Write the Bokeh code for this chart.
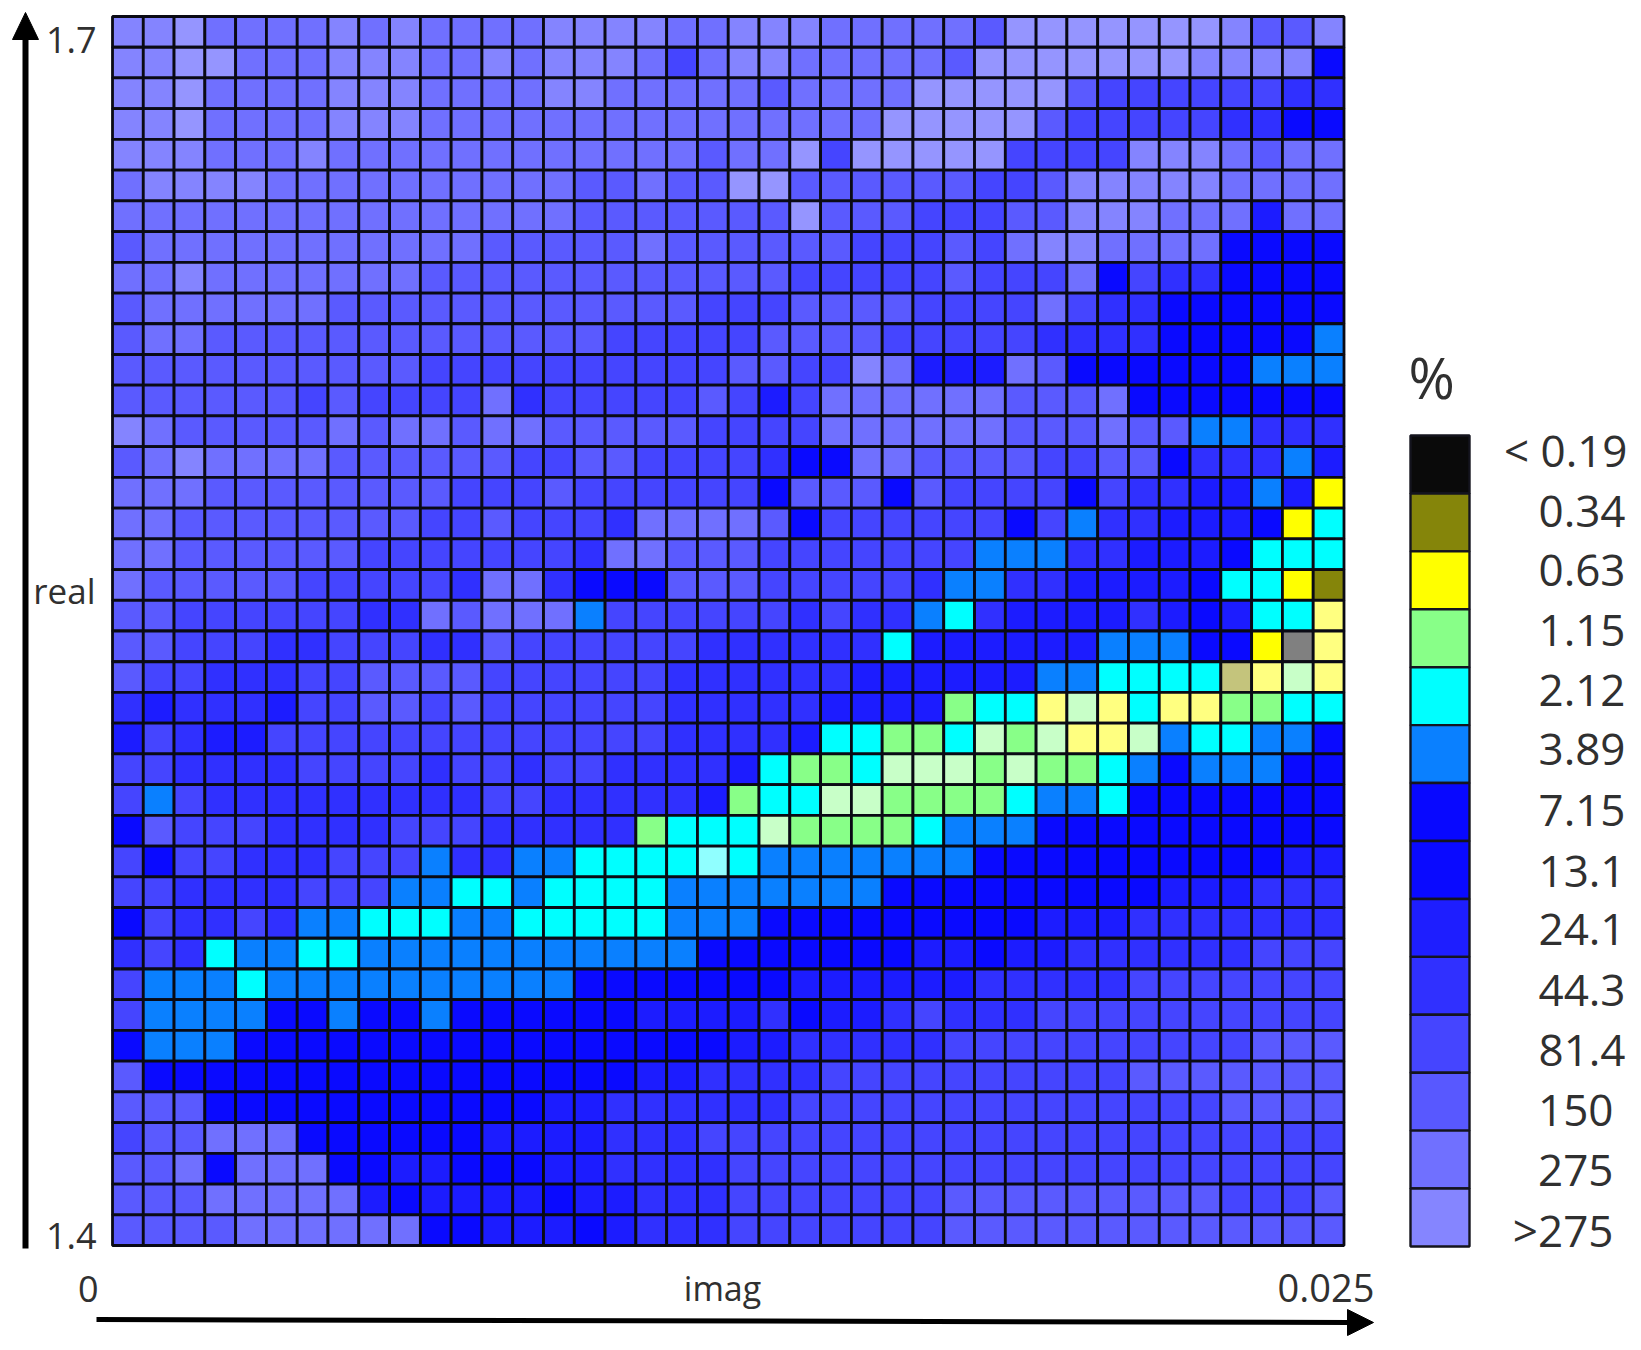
from bokeh.plotting import figure
from bokeh.models import Range1d, ColumnDataSource
from bokeh.core.properties import value
from bokeh.embed import file_html
from bokeh.resources import INLINE

# ---- data -------------------------------------------------------------
IMAG_MAX = 0.025
REAL_MIN, REAL_MAX = 1.4, 1.7

LEGEND_LABELS = ["< 0.19", "0.34", "0.63", "1.15", "2.12", "3.89", "7.15",
                 "13.1", "24.1", "44.3", "81.4", "150", "275", ">275"]
LEGEND_COLORS = ["#0a0a0a", "#85850a", "#ffff00", "#88ff88", "#00ffff", "#0a80ff", "#0808ff",
                 "#0a0aff", "#1e1eff", "#3030ff", "#4545ff", "#5858ff", "#7070ff", "#8585ff"]

# one code per cell, top row first, left column first
CODE_COLORS = {"K": "#0a0a0a", "O": "#85850a", "Y": "#ffff00", "G": "#88ff88", "C": "#00ffff",
               "A": "#0a80ff", "0": "#0a0aff", "1": "#1c1cff", "2": "#3030ff", "3": "#4545ff",
               "4": "#5a5aff", "5": "#7070ff", "6": "#8484ff", "7": "#9595ff",
               "p": "#ffff80", "q": "#c8ffc8", "r": "#90ffff", "s": "#c4c47c", "t": "#808080"}

ROWS_LEFT = [
    "66755556565555", "66775556665565", "66755556665555", "66755556665555", "66655565555555",
    "56666555555555", "55555555555555", "45555555555544", "55655555554444", "45555554444444",
    "45544444444444", "44444444443333", "44444434333352", "65444445455455", "45655554444443",
    "55544444444333", "55444444443343", "55444444333333", "54444433333255", "44333333225455",
    "44333223332243", "43322233444433", "21222133443433", "13211333333333", "33222233332332",
    "3A322222222233", "04333222233322", "3033222333A22A", "332222333AACCA", "032232AACCCAAC",
    "232CAACCAAAAAA", "3AAACAAAAAAAAA", "3AAAA00A00A000", "0AAA0000000000", "40000000000000",
    "44400000000000", "34455500000011", "44505550011000", "44455555101111", "44445555550011",
]
ROWS_MIDDLE = [
    "666655666555554777", "666535665555547777", "665555545555777774", "555555555557777743",
    "555554557377777333", "544544774444443346", "544444447444333446", "444544444433343566",
    "444444443333343335", "444443334444333353", "443333344443333322", "333333443365111540",
    "333334313555555444", "444443333555555444", "344333320055444433", "433333304440433330",
    "33255554033333303A", "32554443333333AAA2", "2000444333332AA221", "5A3333332322AC2111",
    "33333222222C111111", "3333222222111111AA", "3333222221111GCCpq", "333322221CCGGCqGqp",
    "3322221CGGCqqqGqGG", "222221GCCqqGGGGCAA", "222GCCCqGGGGCAAA00", "ACCCCrCAAAAAAA0000",
    "CCCCAAAAAAA0000000", "CCCCAAA00000000011", "AAAAA0000000110112", "A00000001111112222",
    "000111120112322233", "000000112222233333", "000112222333333333", "112222223333333333",
    "112223333333333333", "112222333333333333", "011222333333344444", "101222333333344444",
]
ROWS_RIGHT = [
    "77776446", "77766660", "33333322", "33332200", "36665455", "66665555", "66555155", "55550000",
    "03220000", "22000000", "2200000A", "00000AAA", "50000000", "544AA222", "440222A1", "32211A1Y",
    "221110YC", "21110CCC", "1110CCYO", "12101CCp", "AAA00Ytp", "CCCCspqp", "pCppGGCC", "pqACCAA0",
    "CA0AAA00", "C0000000", "00000000", "00000011", "00111222", "12222222", "22222333", "23333333",
    "33333333", "33333444", "34444444", "33334444", "33333333", "33333333", "44443334", "44444444",
]
ROWS = [a + b + c for a, b, c in zip(ROWS_LEFT, ROWS_MIDDLE, ROWS_RIGHT)]
assert len(ROWS) == 40 and all(len(r) == 40 for r in ROWS)

# ---- page geometry ----------------------------------------------------
FIG_W, FIG_H = 1635, 1345
GRID_L, GRID_R, GRID_T, GRID_B = 112.0, 1343.5, 16.0, 1245.0
imag_per_px = IMAG_MAX / (GRID_R - GRID_L)
real_per_px = (REAL_MAX - REAL_MIN) / (GRID_B - GRID_T)

p = figure(width=FIG_W, height=FIG_H, output_backend="svg", toolbar_location=None,
           x_range=Range1d((0 - GRID_L) * imag_per_px, (FIG_W - GRID_L) * imag_per_px),
           y_range=Range1d(REAL_MAX - (FIG_H - GRID_T) * real_per_px,
                           REAL_MAX - (0 - GRID_T) * real_per_px),
           min_border=0, outline_line_color=None, background_fill_color="white", border_fill_color="white")
p.axis.visible = False
p.grid.visible = False
p.extra_x_ranges["page"] = Range1d(0, FIG_W)
p.extra_y_ranges["page"] = Range1d(FIG_H, 0)

# ---- heat map ---------------------------------------------------------
n = len(ROWS)
dx = IMAG_MAX / n
dy = (REAL_MAX - REAL_MIN) / n
xs, ys, cols = [], [], []
for j, row in enumerate(ROWS):
    for i, code in enumerate(row):
        xs.append((i + 0.5) * dx)
        ys.append(REAL_MAX - (j + 0.5) * dy)
        cols.append(CODE_COLORS[code])
p.rect(x="x", y="y", width=dx, height=dy, fill_color="c", line_color="#0a0a14", line_width=2.8,
       source=ColumnDataSource(dict(x=xs, y=ys, c=cols)))

# ---- legend -----------------------------------------------------------
LEG_L, LEG_R, LEG_T, LEG_B = 1410.0, 1469.0, 435.0, 1246.0
step = (LEG_B - LEG_T) / len(LEGEND_COLORS)
p.rect(x=[(LEG_L + LEG_R) / 2] * len(LEGEND_COLORS),
       y=[LEG_T + (k + 0.5) * step for k in range(len(LEGEND_COLORS))],
       width=LEG_R - LEG_L, height=step, fill_color=LEGEND_COLORS,
       line_color="#14141e", line_width=2.4, x_range_name="page", y_range_name="page")

FONT = value("Open Sans")
TXT = "#303030"
p.text(x=[1627] + [1625] * 10, y=[449, 511, 570, 630, 690, 749, 810, 871, 929, 990, 1050],
       text=LEGEND_LABELS[:11], text_font=FONT, text_font_size="44px", text_color=TXT,
       text_align="right", text_baseline="middle", x_range_name="page", y_range_name="page")
p.text(x=[1613, 1613, 1613], y=[1110, 1170, 1229], text=LEGEND_LABELS[11:], text_font=FONT,
       text_font_size="44px", text_color=TXT, text_align="right", text_baseline="middle",
       x_range_name="page", y_range_name="page")
p.text(x=[1408], y=[376], text=["%"], text_font=FONT, text_font_size="56px", text_color=TXT,
       text_baseline="middle", x_range_name="page", y_range_name="page")

# ---- axis end labels and titles --------------------------------------
p.text(x=[96, 96], y=[39, 1235], text=["1.7", "1.4"], text_font=FONT,
       text_font_size="36px", text_color=TXT, text_align="right", text_baseline="middle",
       x_range_name="page", y_range_name="page")
p.text(x=[98], y=[1288], text=["0"], text_font=FONT,
       text_font_size="36px", text_color=TXT, text_align="right", text_baseline="middle",
       x_range_name="page", y_range_name="page")
p.text(x=[1374], y=[1287], text=["0.025"], text_font=FONT, text_font_size="38px", text_color=TXT,
       text_align="right", text_baseline="middle", x_range_name="page", y_range_name="page")
p.text(x=[95], y=[590], text=["real"], text_font=FONT, text_font_size="35px", text_color=TXT,
       text_align="right", text_baseline="middle", x_range_name="page", y_range_name="page")
p.text(x=[722], y=[1287], text=["imag"], text_font=FONT, text_font_size="34px", text_color=TXT,
       text_align="center", text_baseline="middle", x_range_name="page", y_range_name="page")

# ---- arrows -----------------------------------------------------------
p.segment(x0=[25], y0=[1248], x1=[25], y1=[36], line_color="black", line_width=6,
          x_range_name="page", y_range_name="page")
p.patch(x=[25, 12, 38], y=[12, 39, 39], fill_color="black", line_color="black", line_width=1,
        x_range_name="page", y_range_name="page")
p.segment(x0=[96], y0=[1319], x1=[1350], y1=[1322], line_color="black", line_width=5,
          x_range_name="page", y_range_name="page")
p.patch(x=[1373, 1347, 1347], y=[1322, 1309, 1335], fill_color="black", line_color="black", line_width=1,
        x_range_name="page", y_range_name="page")

open("out.html", "w").write(file_html(p, INLINE))
